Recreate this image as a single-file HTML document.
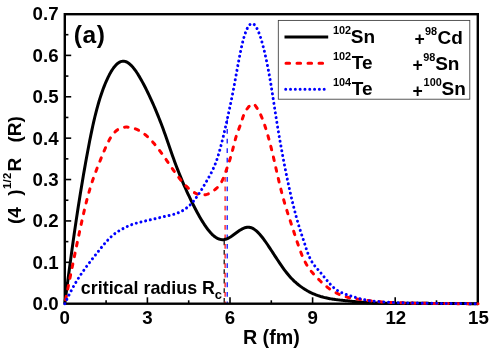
<!DOCTYPE html>
<html><head><meta charset="utf-8"><style>
html,body{margin:0;padding:0;background:#fff;}
svg{display:block;will-change:transform;transform:translateZ(0);font-family:"Liberation Sans",sans-serif;font-weight:bold;}
</style></head><body>
<svg width="498" height="349" viewBox="0 0 498 349">
<rect width="498" height="349" fill="#fff"/>
<!-- vertical critical radius lines -->
<g fill="none" stroke-width="1.2" stroke-dasharray="4.79 4.79">
<line x1="224.2" y1="240.4" x2="224.2" y2="303" stroke="#000"/>
<line x1="225.1" y1="177" x2="225.1" y2="303" stroke="#f00"/>
<line x1="227.2" y1="119.5" x2="227.2" y2="303" stroke="#00f"/>
</g>
<!-- frame -->
<rect x="64.8" y="14.2" width="413" height="289.5" fill="none" stroke="#000" stroke-width="2.4"/>
<g stroke="#000" stroke-width="1.6"><line x1="147.40" y1="303.7" x2="147.40" y2="297.3"/><line x1="230.00" y1="303.7" x2="230.00" y2="297.3"/><line x1="312.60" y1="303.7" x2="312.60" y2="297.3"/><line x1="395.20" y1="303.7" x2="395.20" y2="297.3"/><line x1="106.10" y1="303.7" x2="106.10" y2="300.3"/><line x1="188.70" y1="303.7" x2="188.70" y2="300.3"/><line x1="271.30" y1="303.7" x2="271.30" y2="300.3"/><line x1="353.90" y1="303.7" x2="353.90" y2="300.3"/><line x1="436.50" y1="303.7" x2="436.50" y2="300.3"/><line x1="64.8" y1="262.31" x2="71.2" y2="262.31"/><line x1="64.8" y1="220.93" x2="71.2" y2="220.93"/><line x1="64.8" y1="179.54" x2="71.2" y2="179.54"/><line x1="64.8" y1="138.16" x2="71.2" y2="138.16"/><line x1="64.8" y1="96.77" x2="71.2" y2="96.77"/><line x1="64.8" y1="55.39" x2="71.2" y2="55.39"/><line x1="64.8" y1="283.01" x2="68.4" y2="283.01"/><line x1="64.8" y1="241.62" x2="68.4" y2="241.62"/><line x1="64.8" y1="200.24" x2="68.4" y2="200.24"/><line x1="64.8" y1="158.85" x2="68.4" y2="158.85"/><line x1="64.8" y1="117.46" x2="68.4" y2="117.46"/><line x1="64.8" y1="76.08" x2="68.4" y2="76.08"/><line x1="64.8" y1="34.69" x2="68.4" y2="34.69"/></g>
<!-- curves -->
<path d="M64.80,303.70 L65.84,295.80 L66.87,287.91 L67.91,280.06 L68.94,272.25 L69.98,264.51 L71.01,256.86 L72.05,249.30 L73.08,241.86 L74.12,234.56 L75.16,227.40 L76.19,220.38 L77.23,213.51 L78.26,206.78 L79.30,200.18 L80.33,193.72 L81.37,187.39 L82.41,181.18 L83.44,175.09 L84.48,169.13 L85.51,163.27 L86.55,157.53 L87.58,151.91 L88.62,146.41 L89.65,141.06 L90.69,135.87 L91.73,130.85 L92.76,126.02 L93.80,121.39 L94.83,116.98 L95.87,112.80 L96.90,108.83 L97.94,105.08 L98.97,101.52 L100.01,98.16 L101.05,94.97 L102.08,91.96 L103.12,89.10 L104.15,86.38 L105.19,83.80 L106.22,81.35 L107.26,79.04 L108.29,76.85 L109.33,74.81 L110.37,72.90 L111.40,71.12 L112.44,69.49 L113.47,68.00 L114.51,66.65 L115.54,65.45 L116.58,64.39 L117.62,63.49 L118.65,62.73 L119.69,62.12 L120.72,61.66 L121.76,61.36 L122.79,61.21 L123.83,61.23 L124.86,61.39 L125.90,61.70 L126.94,62.16 L127.97,62.75 L129.01,63.48 L130.04,64.33 L131.08,65.30 L132.11,66.38 L133.15,67.57 L134.18,68.86 L135.22,70.24 L136.26,71.72 L137.29,73.27 L138.33,74.91 L139.36,76.62 L140.40,78.39 L141.43,80.23 L142.47,82.12 L143.50,84.06 L144.54,86.04 L145.58,88.06 L146.61,90.12 L147.65,92.22 L148.68,94.37 L149.72,96.56 L150.75,98.79 L151.79,101.06 L152.83,103.38 L153.86,105.74 L154.90,108.14 L155.93,110.60 L156.97,113.09 L158.00,115.64 L159.04,118.23 L160.07,120.87 L161.11,123.56 L162.15,126.30 L163.18,129.08 L164.22,131.92 L165.25,134.81 L166.29,137.74 L167.32,140.71 L168.36,143.70 L169.39,146.70 L170.43,149.70 L171.47,152.68 L172.50,155.64 L173.54,158.55 L174.57,161.40 L175.61,164.21 L176.64,166.96 L177.68,169.65 L178.71,172.30 L179.75,174.89 L180.79,177.44 L181.82,179.94 L182.86,182.39 L183.89,184.80 L184.93,187.17 L185.96,189.49 L187.00,191.78 L188.04,194.03 L189.07,196.24 L190.11,198.41 L191.14,200.55 L192.18,202.65 L193.21,204.73 L194.25,206.77 L195.28,208.77 L196.32,210.74 L197.36,212.67 L198.39,214.55 L199.43,216.40 L200.46,218.20 L201.50,219.95 L202.53,221.65 L203.57,223.29 L204.60,224.88 L205.64,226.41 L206.68,227.87 L207.71,229.26 L208.75,230.57 L209.78,231.81 L210.82,232.98 L211.85,234.05 L212.89,235.04 L213.92,235.95 L214.96,236.76 L216.00,237.47 L217.03,238.09 L218.07,238.61 L219.10,239.03 L220.14,239.35 L221.17,239.57 L222.21,239.67 L223.25,239.67 L224.28,239.56 L225.32,239.33 L226.35,239.01 L227.39,238.60 L228.42,238.10 L229.46,237.54 L230.49,236.92 L231.53,236.25 L232.57,235.54 L233.60,234.80 L234.64,234.04 L235.67,233.28 L236.71,232.51 L237.74,231.76 L238.78,231.03 L239.81,230.34 L240.85,229.68 L241.89,229.08 L242.92,228.54 L243.96,228.08 L244.99,227.70 L246.03,227.41 L247.06,227.23 L248.10,227.16 L249.13,227.21 L250.17,227.40 L251.21,227.71 L252.24,228.15 L253.28,228.69 L254.31,229.35 L255.35,230.11 L256.38,230.96 L257.42,231.91 L258.46,232.94 L259.49,234.04 L260.53,235.22 L261.56,236.47 L262.60,237.78 L263.63,239.14 L264.67,240.55 L265.70,242.00 L266.74,243.49 L267.78,245.01 L268.81,246.56 L269.85,248.12 L270.88,249.70 L271.92,251.28 L272.95,252.88 L273.99,254.47 L275.02,256.06 L276.06,257.65 L277.10,259.23 L278.13,260.80 L279.17,262.35 L280.20,263.89 L281.24,265.40 L282.27,266.88 L283.31,268.34 L284.34,269.76 L285.38,271.15 L286.42,272.49 L287.45,273.79 L288.49,275.05 L289.52,276.25 L290.56,277.41 L291.59,278.51 L292.63,279.56 L293.67,280.58 L294.70,281.55 L295.74,282.48 L296.77,283.38 L297.81,284.24 L298.84,285.07 L299.88,285.88 L300.91,286.65 L301.95,287.39 L302.99,288.11 L304.02,288.79 L305.06,289.45 L306.09,290.08 L307.13,290.69 L308.16,291.27 L309.20,291.82 L310.23,292.35 L311.27,292.86 L312.31,293.34 L313.34,293.80 L314.38,294.24 L315.41,294.66 L316.45,295.06 L317.48,295.44 L318.52,295.79 L319.55,296.13 L320.59,296.46 L321.63,296.76 L322.66,297.05 L323.70,297.33 L324.73,297.59 L325.77,297.83 L326.80,298.06 L327.84,298.28 L328.88,298.48 L329.91,298.68 L330.95,298.86 L331.98,299.03 L333.02,299.19 L334.05,299.34 L335.09,299.49 L336.12,299.63 L337.16,299.76 L338.20,299.88 L339.23,300.00 L340.27,300.12 L341.30,300.23 L342.34,300.34 L343.37,300.44 L344.41,300.55 L345.44,300.65 L346.48,300.76 L347.52,300.86 L348.55,300.97 L349.59,301.07 L350.62,301.18 L351.66,301.29 L352.69,301.39 L353.73,301.50 L354.76,301.60 L355.80,301.70 L356.84,301.80 L357.87,301.90 L358.91,302.00 L359.94,302.09 L360.98,302.18 L362.01,302.27 L363.05,302.35 L364.09,302.43 L365.12,302.51 L366.16,302.58 L367.19,302.65 L368.23,302.71 L369.26,302.77 L370.30,302.82 L371.33,302.87 L372.37,302.92 L373.41,302.96 L374.44,303.00 L375.48,303.04 L376.51,303.07 L377.55,303.10 L378.58,303.13 L379.62,303.15 L380.65,303.18 L381.69,303.20 L382.73,303.21 L383.76,303.23 L384.80,303.24 L385.83,303.25 L386.87,303.26 L387.90,303.27 L388.94,303.28 L389.97,303.28 L391.01,303.29 L392.05,303.29 L393.08,303.30 L394.12,303.30 L395.15,303.30 L396.19,303.30 L397.22,303.30 L398.26,303.30 L399.30,303.30 L400.33,303.30 L401.37,303.30 L402.40,303.30 L403.44,303.30 L404.47,303.30 L405.51,303.30 L406.54,303.31 L407.58,303.31 L408.62,303.31 L409.65,303.31 L410.69,303.31 L411.72,303.32 L412.76,303.32 L413.79,303.32 L414.83,303.32 L415.86,303.33 L416.90,303.33 L417.94,303.33 L418.97,303.34 L420.01,303.34 L421.04,303.34 L422.08,303.35 L423.11,303.35 L424.15,303.36 L425.18,303.36 L426.22,303.36 L427.26,303.37 L428.29,303.37 L429.33,303.38 L430.36,303.38 L431.40,303.39 L432.43,303.39 L433.47,303.40 L434.51,303.40 L435.54,303.41 L436.58,303.42 L437.61,303.42 L438.65,303.43 L439.68,303.43 L440.72,303.44 L441.75,303.45 L442.79,303.45 L443.83,303.46 L444.86,303.46 L445.90,303.47 L446.93,303.48 L447.97,303.48 L449.00,303.49 L450.04,303.50 L451.07,303.50 L452.11,303.51 L453.15,303.52 L454.18,303.53 L455.22,303.53 L456.25,303.54 L457.29,303.55 L458.32,303.55 L459.36,303.56 L460.39,303.57 L461.43,303.58 L462.47,303.58 L463.50,303.59 L464.54,303.60 L465.57,303.61 L466.61,303.61 L467.64,303.62 L468.68,303.63 L469.72,303.64 L470.75,303.65 L471.79,303.65 L472.82,303.66 L473.86,303.67 L474.89,303.68 L475.93,303.68 L476.96,303.69 L478.00,303.70" fill="none" stroke="#000" stroke-width="3" stroke-linejoin="round"/>
<path d="M64.80,303.70 L65.84,298.54 L66.87,293.39 L67.91,288.24 L68.94,283.10 L69.98,277.98 L71.01,272.87 L72.05,267.78 L73.08,262.71 L74.12,257.66 L75.16,252.65 L76.19,247.67 L77.23,242.72 L78.26,237.81 L79.30,232.94 L80.33,228.12 L81.37,223.36 L82.41,218.68 L83.44,214.10 L84.48,209.64 L85.51,205.32 L86.55,201.16 L87.58,197.18 L88.62,193.40 L89.65,189.81 L90.69,186.39 L91.73,183.14 L92.76,180.03 L93.80,177.05 L94.83,174.18 L95.87,171.41 L96.90,168.72 L97.94,166.08 L98.97,163.50 L100.01,160.94 L101.05,158.40 L102.08,155.86 L103.12,153.35 L104.15,150.88 L105.19,148.48 L106.22,146.15 L107.26,143.93 L108.29,141.82 L109.33,139.86 L110.37,138.05 L111.40,136.41 L112.44,134.94 L113.47,133.62 L114.51,132.44 L115.54,131.41 L116.58,130.50 L117.62,129.73 L118.65,129.07 L119.69,128.51 L120.72,128.07 L121.76,127.71 L122.79,127.44 L123.83,127.25 L124.86,127.13 L125.90,127.08 L126.94,127.08 L127.97,127.13 L129.01,127.22 L130.04,127.36 L131.08,127.55 L132.11,127.78 L133.15,128.05 L134.18,128.37 L135.22,128.74 L136.26,129.15 L137.29,129.61 L138.33,130.11 L139.36,130.67 L140.40,131.27 L141.43,131.91 L142.47,132.61 L143.50,133.35 L144.54,134.14 L145.58,134.98 L146.61,135.86 L147.65,136.80 L148.68,137.78 L149.72,138.81 L150.75,139.89 L151.79,141.00 L152.83,142.15 L153.86,143.35 L154.90,144.57 L155.93,145.83 L156.97,147.13 L158.00,148.45 L159.04,149.80 L160.07,151.17 L161.11,152.57 L162.15,153.99 L163.18,155.43 L164.22,156.89 L165.25,158.36 L166.29,159.84 L167.32,161.34 L168.36,162.84 L169.39,164.34 L170.43,165.85 L171.47,167.34 L172.50,168.83 L173.54,170.31 L174.57,171.78 L175.61,173.22 L176.64,174.64 L177.68,176.04 L178.71,177.41 L179.75,178.75 L180.79,180.05 L181.82,181.31 L182.86,182.53 L183.89,183.71 L184.93,184.83 L185.96,185.91 L187.00,186.94 L188.04,187.91 L189.07,188.83 L190.11,189.70 L191.14,190.50 L192.18,191.25 L193.21,191.93 L194.25,192.55 L195.28,193.11 L196.32,193.60 L197.36,194.02 L198.39,194.37 L199.43,194.64 L200.46,194.85 L201.50,194.97 L202.53,195.02 L203.57,194.99 L204.60,194.88 L205.64,194.69 L206.68,194.41 L207.71,194.05 L208.75,193.61 L209.78,193.09 L210.82,192.51 L211.85,191.87 L212.89,191.16 L213.92,190.40 L214.96,189.59 L216.00,188.73 L217.03,187.82 L218.07,186.80 L219.10,185.63 L220.14,184.25 L221.17,182.61 L222.21,180.65 L223.25,178.33 L224.28,175.70 L225.32,172.85 L226.35,169.92 L227.39,167.00 L228.42,164.04 L229.46,160.95 L230.49,157.63 L231.53,154.01 L232.57,150.13 L233.60,146.06 L234.64,141.98 L235.67,138.11 L236.71,134.67 L237.74,131.75 L238.78,129.10 L239.81,126.41 L240.85,123.42 L241.89,120.25 L242.92,117.17 L243.96,114.47 L244.99,112.24 L246.03,110.41 L247.06,108.88 L248.10,107.55 L249.13,106.35 L250.17,105.22 L251.21,104.33 L252.24,103.84 L253.28,103.92 L254.31,104.56 L255.35,105.65 L256.38,107.08 L257.42,108.73 L258.46,110.52 L259.49,112.45 L260.53,114.54 L261.56,116.83 L262.60,119.34 L263.63,122.09 L264.67,125.07 L265.70,128.26 L266.74,131.62 L267.78,135.14 L268.81,138.83 L269.85,142.67 L270.88,146.67 L271.92,150.84 L272.95,155.16 L273.99,159.61 L275.02,164.15 L276.06,168.74 L277.10,173.32 L278.13,177.85 L279.17,182.29 L280.20,186.60 L281.24,190.74 L282.27,194.71 L283.31,198.51 L284.34,202.16 L285.38,205.68 L286.42,209.06 L287.45,212.35 L288.49,215.56 L289.52,218.72 L290.56,221.84 L291.59,224.96 L292.63,228.09 L293.67,231.25 L294.70,234.42 L295.74,237.59 L296.77,240.72 L297.81,243.80 L298.84,246.80 L299.88,249.70 L300.91,252.48 L301.95,255.11 L302.99,257.57 L304.02,259.84 L305.06,261.91 L306.09,263.82 L307.13,265.57 L308.16,267.18 L309.20,268.66 L310.23,270.05 L311.27,271.35 L312.31,272.57 L313.34,273.75 L314.38,274.89 L315.41,276.01 L316.45,277.11 L317.48,278.19 L318.52,279.25 L319.55,280.28 L320.59,281.29 L321.63,282.27 L322.66,283.23 L323.70,284.15 L324.73,285.05 L325.77,285.92 L326.80,286.76 L327.84,287.57 L328.88,288.35 L329.91,289.09 L330.95,289.80 L331.98,290.48 L333.02,291.12 L334.05,291.73 L335.09,292.32 L336.12,292.87 L337.16,293.39 L338.20,293.89 L339.23,294.36 L340.27,294.80 L341.30,295.21 L342.34,295.60 L343.37,295.97 L344.41,296.31 L345.44,296.63 L346.48,296.92 L347.52,297.20 L348.55,297.46 L349.59,297.69 L350.62,297.92 L351.66,298.13 L352.69,298.32 L353.73,298.50 L354.76,298.67 L355.80,298.84 L356.84,298.99 L357.87,299.14 L358.91,299.28 L359.94,299.42 L360.98,299.55 L362.01,299.69 L363.05,299.82 L364.09,299.96 L365.12,300.09 L366.16,300.23 L367.19,300.36 L368.23,300.50 L369.26,300.63 L370.30,300.75 L371.33,300.88 L372.37,301.00 L373.41,301.13 L374.44,301.24 L375.48,301.36 L376.51,301.47 L377.55,301.57 L378.58,301.67 L379.62,301.77 L380.65,301.86 L381.69,301.94 L382.73,302.02 L383.76,302.09 L384.80,302.16 L385.83,302.23 L386.87,302.29 L387.90,302.34 L388.94,302.40 L389.97,302.45 L391.01,302.49 L392.05,302.54 L393.08,302.58 L394.12,302.61 L395.15,302.65 L396.19,302.69 L397.22,302.72 L398.26,302.75 L399.30,302.78 L400.33,302.81 L401.37,302.84 L402.40,302.87 L403.44,302.89 L404.47,302.92 L405.51,302.95 L406.54,302.97 L407.58,303.00 L408.62,303.02 L409.65,303.04 L410.69,303.07 L411.72,303.09 L412.76,303.11 L413.79,303.13 L414.83,303.15 L415.86,303.17 L416.90,303.19 L417.94,303.21 L418.97,303.23 L420.01,303.25 L421.04,303.27 L422.08,303.29 L423.11,303.30 L424.15,303.32 L425.18,303.33 L426.22,303.35 L427.26,303.36 L428.29,303.38 L429.33,303.39 L430.36,303.40 L431.40,303.42 L432.43,303.43 L433.47,303.44 L434.51,303.45 L435.54,303.46 L436.58,303.48 L437.61,303.49 L438.65,303.50 L439.68,303.51 L440.72,303.52 L441.75,303.52 L442.79,303.53 L443.83,303.54 L444.86,303.55 L445.90,303.56 L446.93,303.56 L447.97,303.57 L449.00,303.58 L450.04,303.59 L451.07,303.59 L452.11,303.60 L453.15,303.60 L454.18,303.61 L455.22,303.62 L456.25,303.62 L457.29,303.63 L458.32,303.63 L459.36,303.64 L460.39,303.64 L461.43,303.64 L462.47,303.65 L463.50,303.65 L464.54,303.66 L465.57,303.66 L466.61,303.66 L467.64,303.67 L468.68,303.67 L469.72,303.67 L470.75,303.68 L471.79,303.68 L472.82,303.68 L473.86,303.69 L474.89,303.69 L475.93,303.69 L476.96,303.70 L478.00,303.70" fill="none" stroke="#f00" stroke-width="3" stroke-linecap="round" stroke-dasharray="3.6 7.4" stroke-dashoffset="7" stroke-linejoin="round"/>
<path d="M64.80,303.70 L65.84,301.53 L66.87,299.36 L67.91,297.22 L68.94,295.12 L69.98,293.05 L71.01,291.04 L72.05,289.09 L73.08,287.18 L74.12,285.34 L75.16,283.55 L76.19,281.82 L77.23,280.13 L78.26,278.49 L79.30,276.89 L80.33,275.32 L81.37,273.78 L82.41,272.26 L83.44,270.78 L84.48,269.32 L85.51,267.89 L86.55,266.48 L87.58,265.09 L88.62,263.71 L89.65,262.35 L90.69,261.01 L91.73,259.68 L92.76,258.35 L93.80,257.04 L94.83,255.73 L95.87,254.43 L96.90,253.13 L97.94,251.83 L98.97,250.52 L100.01,249.23 L101.05,247.94 L102.08,246.66 L103.12,245.40 L104.15,244.17 L105.19,242.96 L106.22,241.78 L107.26,240.64 L108.29,239.55 L109.33,238.49 L110.37,237.48 L111.40,236.51 L112.44,235.59 L113.47,234.72 L114.51,233.89 L115.54,233.12 L116.58,232.39 L117.62,231.70 L118.65,231.05 L119.69,230.43 L120.72,229.84 L121.76,229.27 L122.79,228.71 L123.83,228.17 L124.86,227.65 L125.90,227.14 L126.94,226.64 L127.97,226.17 L129.01,225.71 L130.04,225.28 L131.08,224.87 L132.11,224.49 L133.15,224.13 L134.18,223.79 L135.22,223.48 L136.26,223.18 L137.29,222.89 L138.33,222.62 L139.36,222.36 L140.40,222.10 L141.43,221.85 L142.47,221.61 L143.50,221.37 L144.54,221.13 L145.58,220.90 L146.61,220.67 L147.65,220.43 L148.68,220.20 L149.72,219.96 L150.75,219.73 L151.79,219.49 L152.83,219.24 L153.86,219.00 L154.90,218.75 L155.93,218.51 L156.97,218.26 L158.00,218.02 L159.04,217.77 L160.07,217.53 L161.11,217.28 L162.15,217.05 L163.18,216.81 L164.22,216.57 L165.25,216.34 L166.29,216.12 L167.32,215.89 L168.36,215.66 L169.39,215.43 L170.43,215.18 L171.47,214.93 L172.50,214.66 L173.54,214.37 L174.57,214.06 L175.61,213.73 L176.64,213.37 L177.68,212.98 L178.71,212.56 L179.75,212.10 L180.79,211.61 L181.82,211.07 L182.86,210.48 L183.89,209.85 L184.93,209.17 L185.96,208.44 L187.00,207.64 L188.04,206.79 L189.07,205.88 L190.11,204.90 L191.14,203.85 L192.18,202.73 L193.21,201.53 L194.25,200.26 L195.28,198.93 L196.32,197.53 L197.36,196.08 L198.39,194.57 L199.43,193.01 L200.46,191.40 L201.50,189.75 L202.53,188.06 L203.57,186.34 L204.60,184.58 L205.64,182.80 L206.68,181.00 L207.71,179.18 L208.75,177.34 L209.78,175.48 L210.82,173.58 L211.85,171.59 L212.89,169.48 L213.92,167.22 L214.96,164.78 L216.00,162.12 L217.03,159.20 L218.07,156.01 L219.10,152.55 L220.14,148.85 L221.17,144.94 L222.21,140.85 L223.25,136.60 L224.28,132.22 L225.32,127.73 L226.35,123.16 L227.39,118.53 L228.42,113.84 L229.46,109.06 L230.49,104.18 L231.53,99.17 L232.57,94.01 L233.60,88.69 L234.64,83.19 L235.67,77.52 L236.71,71.78 L237.74,66.07 L238.78,60.46 L239.81,55.07 L240.85,49.99 L241.89,45.31 L242.92,41.08 L243.96,37.31 L244.99,34.00 L246.03,31.15 L247.06,28.76 L248.10,26.81 L249.13,25.32 L250.17,24.29 L251.21,23.70 L252.24,23.56 L253.28,23.88 L254.31,24.62 L255.35,25.79 L256.38,27.36 L257.42,29.32 L258.46,31.65 L259.49,34.33 L260.53,37.36 L261.56,40.70 L262.60,44.36 L263.63,48.30 L264.67,52.52 L265.70,57.04 L266.74,61.86 L267.78,66.98 L268.81,72.42 L269.85,78.19 L270.88,84.29 L271.92,90.69 L272.95,97.30 L273.99,104.03 L275.02,110.77 L276.06,117.44 L277.10,123.93 L278.13,130.20 L279.17,136.26 L280.20,142.14 L281.24,147.87 L282.27,153.47 L283.31,158.97 L284.34,164.35 L285.38,169.62 L286.42,174.76 L287.45,179.77 L288.49,184.64 L289.52,189.37 L290.56,193.96 L291.59,198.40 L292.63,202.72 L293.67,206.91 L294.70,210.97 L295.74,214.90 L296.77,218.69 L297.81,222.34 L298.84,225.85 L299.88,229.21 L300.91,232.44 L301.95,235.59 L302.99,238.70 L304.02,241.83 L305.06,245.01 L306.09,248.22 L307.13,251.30 L308.16,254.12 L309.20,256.61 L310.23,258.81 L311.27,260.75 L312.31,262.47 L313.34,264.01 L314.38,265.39 L315.41,266.67 L316.45,267.87 L317.48,269.04 L318.52,270.21 L319.55,271.41 L320.59,272.64 L321.63,273.89 L322.66,275.16 L323.70,276.44 L324.73,277.72 L325.77,278.99 L326.80,280.24 L327.84,281.47 L328.88,282.67 L329.91,283.83 L330.95,284.95 L331.98,286.00 L333.02,287.00 L334.05,287.92 L335.09,288.76 L336.12,289.54 L337.16,290.25 L338.20,290.90 L339.23,291.49 L340.27,292.04 L341.30,292.54 L342.34,293.00 L343.37,293.42 L344.41,293.82 L345.44,294.19 L346.48,294.55 L347.52,294.89 L348.55,295.22 L349.59,295.56 L350.62,295.89 L351.66,296.22 L352.69,296.55 L353.73,296.87 L354.76,297.19 L355.80,297.51 L356.84,297.82 L357.87,298.12 L358.91,298.41 L359.94,298.70 L360.98,298.97 L362.01,299.23 L363.05,299.48 L364.09,299.71 L365.12,299.93 L366.16,300.14 L367.19,300.32 L368.23,300.49 L369.26,300.65 L370.30,300.79 L371.33,300.92 L372.37,301.04 L373.41,301.15 L374.44,301.25 L375.48,301.34 L376.51,301.43 L377.55,301.51 L378.58,301.59 L379.62,301.67 L380.65,301.74 L381.69,301.82 L382.73,301.88 L383.76,301.95 L384.80,302.01 L385.83,302.07 L386.87,302.13 L387.90,302.19 L388.94,302.24 L389.97,302.29 L391.01,302.34 L392.05,302.39 L393.08,302.44 L394.12,302.48 L395.15,302.52 L396.19,302.56 L397.22,302.60 L398.26,302.64 L399.30,302.68 L400.33,302.71 L401.37,302.74 L402.40,302.78 L403.44,302.81 L404.47,302.84 L405.51,302.87 L406.54,302.89 L407.58,302.92 L408.62,302.94 L409.65,302.97 L410.69,302.99 L411.72,303.01 L412.76,303.04 L413.79,303.06 L414.83,303.08 L415.86,303.10 L416.90,303.11 L417.94,303.13 L418.97,303.15 L420.01,303.17 L421.04,303.18 L422.08,303.20 L423.11,303.21 L424.15,303.23 L425.18,303.24 L426.22,303.25 L427.26,303.27 L428.29,303.28 L429.33,303.29 L430.36,303.30 L431.40,303.32 L432.43,303.33 L433.47,303.34 L434.51,303.35 L435.54,303.36 L436.58,303.37 L437.61,303.38 L438.65,303.39 L439.68,303.40 L440.72,303.42 L441.75,303.43 L442.79,303.43 L443.83,303.44 L444.86,303.45 L445.90,303.46 L446.93,303.47 L447.97,303.48 L449.00,303.49 L450.04,303.50 L451.07,303.51 L452.11,303.52 L453.15,303.52 L454.18,303.53 L455.22,303.54 L456.25,303.55 L457.29,303.56 L458.32,303.56 L459.36,303.57 L460.39,303.58 L461.43,303.59 L462.47,303.59 L463.50,303.60 L464.54,303.61 L465.57,303.62 L466.61,303.62 L467.64,303.63 L468.68,303.64 L469.72,303.64 L470.75,303.65 L471.79,303.66 L472.82,303.67 L473.86,303.67 L474.89,303.68 L475.93,303.69 L476.96,303.69 L478.00,303.70" fill="none" stroke="#00f" stroke-width="3" stroke-linecap="round" stroke-dasharray="0.01 4.8" stroke-linejoin="round"/>
<!-- legend -->
<rect x="278.3" y="20.4" width="191.5" height="78.8" fill="#fff" stroke="#3a3a3a" stroke-width="0.85"/>
<line x1="284.5" y1="37.1" x2="328.2" y2="37.1" stroke="#000" stroke-width="3"/>
<line x1="286" y1="63.2" x2="324" y2="63.2" stroke="#f00" stroke-width="3" stroke-linecap="round" stroke-dasharray="3.6 7.4"/>
<line x1="285.7" y1="89.3" x2="325" y2="89.3" stroke="#00f" stroke-width="3" stroke-linecap="round" stroke-dasharray="0.01 4.8"/>
<g font-size="19">
<text x="350.8" y="43.1">Sn</text><text x="351.8" y="68.8">Te</text><text x="351.8" y="94.6">Te</text>
<text x="437.6" y="43.8">Cd</text><text x="435.2" y="69.5">Sn</text><text x="441.5" y="95.3">Sn</text>
</g>
<g font-size="17.6" text-anchor="middle">
<text x="419.7" y="45.1">+</text><text x="417.7" y="70.8">+</text><text x="417.7" y="96.6">+</text>
</g>
<g font-size="10.9">
<text x="333" y="34.2">102</text><text x="333" y="59.9">102</text><text x="333" y="85.7">104</text>
<text x="424.9" y="34.9">98</text><text x="423.2" y="60.6">98</text><text x="423.6" y="86.4">100</text>
</g>
<!-- labels -->
<g font-size="18.7"><text x="64.80" y="324.3" text-anchor="middle">0</text><text x="147.40" y="324.3" text-anchor="middle">3</text><text x="230.00" y="324.3" text-anchor="middle">6</text><text x="312.60" y="324.3" text-anchor="middle">9</text><text x="395.80" y="324.3" text-anchor="middle">12</text><text x="478.40" y="324.3" text-anchor="middle">15</text><text x="58.6" y="310.10" text-anchor="end">0.0</text><text x="58.6" y="268.71" text-anchor="end">0.1</text><text x="58.6" y="227.33" text-anchor="end">0.2</text><text x="58.6" y="185.94" text-anchor="end">0.3</text><text x="58.6" y="144.56" text-anchor="end">0.4</text><text x="58.6" y="103.17" text-anchor="end">0.5</text><text x="58.6" y="61.79" text-anchor="end">0.6</text><text x="58.6" y="20.40" text-anchor="end">0.7</text></g>
<text x="80.8" y="293.6" font-size="17.9">critical radius R</text>
<text x="214.8" y="298.8" font-size="13">c</text>
<text x="73.8" y="42.7" font-size="24.6" letter-spacing="0.5">(a)</text>
<text x="242.9" y="344" font-size="19.7">R (fm)</text>
<g transform="translate(21.3,224) rotate(-90)" font-size="19">
<text x="0" y="0">(4</text>
<text x="28.3" y="0">)</text>
<text x="35" y="-10.3" font-size="11.2" letter-spacing="0.35">1/2</text>
<text x="52.4" y="0">R</text>
<text x="81.5" y="0">(R)</text>
</g>
</svg>
</body></html>
